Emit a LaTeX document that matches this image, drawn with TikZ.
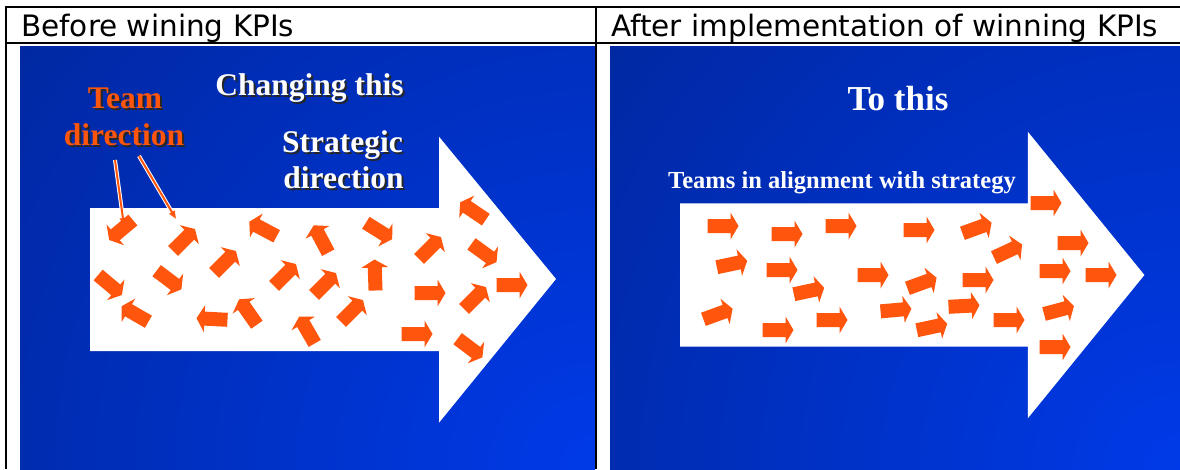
\documentclass[tikz,border=0pt]{standalone}
\usepackage{fontspec}
\setmainfont{Liberation Serif}
\newfontfamily\hdrfont{DejaVu Sans}
\usetikzlibrary{arrows.meta}
\definecolor{kpidark}{RGB}{0,34,138}
\definecolor{kpibright}{RGB}{0,58,232}
\definecolor{kpiorange}{RGB}{255,85,12}
\tikzset{
	kpihead/.style={inner sep=0pt, font=\hdrfont\fontsize{29.5}{32}\selectfont, anchor=base west},
	kpititle/.style={inner sep=0pt, font=\bfseries\fontsize{31.5}{34}\selectfont, text=white, anchor=base},
	kpishade/.style={kpititle, text=black!85},
	kpirule/.style={line width=2pt, black},
	kpiarrow/.pic={\fill[kpiorange] (-15.5,-7) -- (7.5,-7) -- (7.5,-13.5) -- (15.5,0) -- (7.5,13.5) -- (7.5,7) -- (-15.5,7) -- cycle;}
}
\begin{document}
\begin{tikzpicture}[x=1pt, y=-1pt]
	\useasboundingbox (0,0) rectangle (1180,469);
	% blue panels
	\begin{scope}
		\clip (20,46) rectangle (595,469);
		\shade[inner color=kpibright, outer color=kpidark] (595,469) circle (960);
	\end{scope}
	\begin{scope}
		\clip (610,46) rectangle (1180,469);
		\shade[inner color=kpibright, outer color=kpidark] (1180,469) circle (960);
	\end{scope}
	% table rules
	\draw[kpirule] (5,7) -- (1180,7);
	\draw[kpirule] (5,43) -- (1180,43);
	\draw[kpirule] (6,6) -- (6,469);
	\draw[kpirule] (596,6) -- (596,469);
	\node[kpihead] (hdrBefore) at (21,36) {Before wining KPIs};
	\node[kpihead] (hdrAfter) at (611,36) {After implementation of winning KPIs};
	% big white arrows
	\fill[white] (90,208) -- (439,208) -- (439,136.7) -- (556,279) -- (439,422.7) -- (439,351) -- (90,351) -- cycle;
	\fill[white] (680,203.3) -- (1027.8,203.3) -- (1027.8,131.7) -- (1144.4,275) -- (1027.8,418.3) -- (1027.8,346.7) -- (680,346.7) -- cycle;
	% left titles
	\node[kpishade] (changeShade) at (311.5,97.5) {Changing this};
	\node[kpititle] (change) at (309.5,95.5) {Changing this};
	\node[kpishade] (teamShade) at (127,110) {Team};
	\node[kpititle, text=kpiorange] (team) at (125,108) {Team};
	\node[kpishade] (teamDirShade) at (126,147) {direction};
	\node[kpititle, text=kpiorange] (teamDir) at (124,145) {direction};
	\node[kpishade] (stratShade) at (344.5,154) {Strategic};
	\node[kpititle] (strat) at (342.5,152) {Strategic};
	\node[kpishade] (stratDirShade) at (345.5,190) {direction};
	\node[kpititle] (stratDir) at (343.5,188) {direction};
	% right titles
	\node[kpititle, font=\bfseries\fontsize{35}{38}\selectfont] (toThis) at (898,110) {To this};
	\node[kpititle, font=\bfseries\fontsize{24.5}{27}\selectfont] (aligned) at (842,188) {Teams in alignment with strategy};
	% pointers from team direction
	\coordinate (P1) at (115,160);
	\coordinate (P2) at (124,226);
	\coordinate (P3) at (139,156);
	\coordinate (P4) at (176,219);
	\draw[white, line width=4pt] (P1) -- (P2);
	\draw[white, line width=4pt] (P3) -- (P4);
	\draw[kpiorange, line width=2pt, -{Triangle[length=8pt, width=6pt]}] (P1) -- (P2);
	\draw[kpiorange, line width=2pt, -{Triangle[length=8pt, width=6pt]}] (P3) -- (P4);
	% scattered team arrows
	\pic[rotate=220] (L1) at (121,230) {kpiarrow};
	\pic[rotate=45] (L2) at (184,240) {kpiarrow};
	\pic[rotate=152] (L3) at (263,229) {kpiarrow};
	\pic[rotate=118] (L4) at (321,239) {kpiarrow};
	\pic[rotate=-32] (L5) at (379,231) {kpiarrow};
	\pic[rotate=45] (L6) at (430,248) {kpiarrow};
	\pic[rotate=146] (L7) at (473,211) {kpiarrow};
	\pic[rotate=-36] (L8) at (484,253) {kpiarrow};
	\pic[rotate=-40] (L9) at (110,285) {kpiarrow};
	\pic[rotate=-37] (L10) at (169,280) {kpiarrow};
	\pic[rotate=45] (L11) at (225,262) {kpiarrow};
	\pic[rotate=45] (L12) at (285,275) {kpiarrow};
	\pic[rotate=45] (L13) at (325,284) {kpiarrow};
	\pic[rotate=92] (L14) at (375,275) {kpiarrow};
	\pic[rotate=0] (L15) at (430,293) {kpiarrow};
	\pic[rotate=45] (L16) at (475,298) {kpiarrow};
	\pic[rotate=0] (L17) at (512,285) {kpiarrow};
	\pic[rotate=150] (L18) at (135,314) {kpiarrow};
	\pic[rotate=177] (L19) at (212,319) {kpiarrow};
	\pic[rotate=125] (L20) at (248,312) {kpiarrow};
	\pic[rotate=120] (L21) at (307,330) {kpiarrow};
	\pic[rotate=45] (L22) at (352,311) {kpiarrow};
	\pic[rotate=0] (L23) at (417,334) {kpiarrow};
	\pic[rotate=-37] (L24) at (470,348) {kpiarrow};
	% aligned team arrows
	\pic[rotate=0] (R1) at (723,226) {kpiarrow};
	\pic[rotate=0] (R2) at (787,234) {kpiarrow};
	\pic[rotate=0] (R3) at (841,226) {kpiarrow};
	\pic[rotate=0] (R4) at (919,230) {kpiarrow};
	\pic[rotate=20] (R5) at (977,228) {kpiarrow};
	\pic[rotate=0] (R6) at (1046,203) {kpiarrow};
	\pic[rotate=25] (R7) at (1008,251) {kpiarrow};
	\pic[rotate=0] (R8) at (1073,243) {kpiarrow};
	\pic[rotate=12] (R9) at (732,264) {kpiarrow};
	\pic[rotate=0] (R10) at (782,270) {kpiarrow};
	\pic[rotate=0] (R11) at (873,275) {kpiarrow};
	\pic[rotate=12] (R12) at (809,291) {kpiarrow};
	\pic[rotate=20] (R13) at (922,283) {kpiarrow};
	\pic[rotate=0] (R14) at (978,280) {kpiarrow};
	\pic[rotate=0] (R15) at (1055,271) {kpiarrow};
	\pic[rotate=0] (R16) at (1101,275) {kpiarrow};
	\pic[rotate=20] (R17) at (718,314) {kpiarrow};
	\pic[rotate=0] (R18) at (778,330) {kpiarrow};
	\pic[rotate=0] (R19) at (832,320) {kpiarrow};
	\pic[rotate=5] (R20) at (896,310) {kpiarrow};
	\pic[rotate=12] (R21) at (932,327) {kpiarrow};
	\pic[rotate=3] (R22) at (964,306) {kpiarrow};
	\pic[rotate=0] (R23) at (1009,320) {kpiarrow};
	\pic[rotate=15] (R24) at (1059,310) {kpiarrow};
	\pic[rotate=0] (R25) at (1055,347) {kpiarrow};
\end{tikzpicture}
\end{document}
